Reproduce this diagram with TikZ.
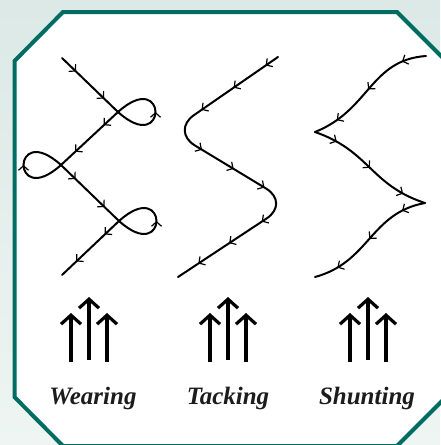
\documentclass[tikz,border=0pt]{standalone}
\usepackage{fontspec}
\setmainfont{Liberation Serif}
\usetikzlibrary{arrows.meta, decorations.markings}

\definecolor{frameteal}{RGB}{0,108,98}
\definecolor{paletop}{RGB}{220,233,230}
\definecolor{palebot}{RGB}{238,245,243}
\definecolor{inkgray}{RGB}{28,28,28}

\tikzset{
    barb/.tip = {Straight Barb[length=4.5pt, width=10pt, line width=1.2pt]},
}

\begin{document}
\begin{tikzpicture}[
    x=1pt, y=-1pt,
    track/.style     = {line width=2pt, line cap=round},
    flowmark/.style  = {postaction=decorate, decoration={markings,
                        mark=at position #1 with {\arrow{barb}}}},
    flowmarks/.style n args = {3}{postaction=decorate, decoration={markings,
                        mark=between positions #1 and #2 step #3 with {\arrow{barb}}}},
    wind/.style      = {line width=3.2pt, -{Straight Barb[length=9pt, width=20pt]}},
    maneuver/.style  = {font=\fontsize{25}{28}\selectfont\bfseries\itshape,
                        text=inkgray, anchor=base, inner sep=0pt},
]

\useasboundingbox (0,0) rectangle (440,445);

%% ---- Background and frame ----

\shade[top color=paletop, bottom color=palebot] (0,0) rectangle (440,445);
\draw[frameteal, line width=4pt, fill=white, line join=miter]
    (14.5,61) -- (63,12) -- (397,12) -- (446,61) -- (446,397)
    -- (397,446) -- (63,446) -- (14.5,397) -- cycle;

%% ---- Wearing: zigzag with a loop at each turn ----

\coordinate (w0) at (62,58);
\coordinate (w1) at (118,112);
\coordinate (w2) at (61,165);
\coordinate (w3) at (119,221);
\coordinate (w4) at (62,275);

\draw[track, flowmarks={0.25}{0.76}{0.5}] (w0) -- (w1);
\draw[track, flowmark=0.5] (w1) .. controls +(50,45) and +(50,-45) .. (w1);
\draw[track, flowmarks={0.25}{0.76}{0.5}] (w1) -- (w2);
\draw[track, flowmark=0.5] (w2) .. controls +(-50,45) and +(-50,-45) .. (w2);
\draw[track, flowmarks={0.25}{0.76}{0.5}] (w2) -- (w3);
\draw[track, flowmark=0.5] (w3) .. controls +(50,45) and +(50,-45) .. (w3);
\draw[track, flowmarks={0.25}{0.76}{0.5}] (w3) -- (w4);

%% ---- Tacking: rounded zigzag ----

\coordinate (t0) at (278,57);
\coordinate (t1) at (171,131);
\coordinate (t2) at (290,203);
\coordinate (t3) at (178,277);

\draw[track, rounded corners=28pt, postaction=decorate, decoration={markings,
        mark=at position 15pt  with {\arrow{barb}},
        mark=at position 54pt  with {\arrow{barb}},
        mark=at position 93pt  with {\arrow{barb}},
        mark=at position 148pt with {\arrow{barb}},
        mark=at position 185pt with {\arrow{barb}},
        mark=at position 221pt with {\arrow{barb}},
        mark=at position 266pt with {\arrow{barb}},
        mark=at position 305pt with {\arrow{barb}},
        mark=at position 342pt with {\arrow{barb}}}]
    (t0) -- (t1) -- (t2) -- (t3);

%% ---- Shunting: S-curves meeting in cusps ----

\coordinate (s0) at (426,56);
\coordinate (s1) at (315,132);
\coordinate (s2) at (425,203);
\coordinate (s3) at (315,277);

\draw[track, flowmarks={0.18}{0.83}{0.32}] (s0) .. controls (370,60)  and (370,110) .. (s1);
\draw[track, flowmarks={0.18}{0.83}{0.32}] (s1) .. controls (370,151) and (370,185) .. (s2);
\draw[track, flowmarks={0.18}{0.83}{0.32}] (s2) .. controls (370,213) and (370,262) .. (s3);

%% ---- Wind arrows ----

\foreach \gx in {89, 228, 368}{
    \draw[wind] (\gx-18, 362) -- (\gx-18, 313);
    \draw[wind] (\gx,    360) -- (\gx,    297);
    \draw[wind] (\gx+18, 362) -- (\gx+18, 313);
}

%% ---- Labels ----

\node[maneuver] (wearing)  at (93,404)  {Wearing};
\node[maneuver] (tacking)  at (228,404) {Tacking};
\node[maneuver] (shunting) at (367,404) {Shunting};

\end{tikzpicture}
\end{document}
